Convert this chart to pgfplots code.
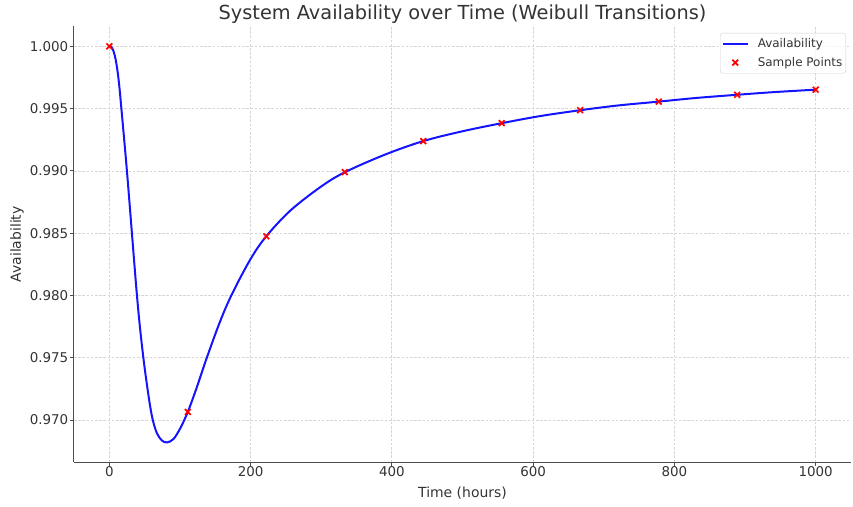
\documentclass[border=0pt]{standalone}
\usepackage{fontspec}
\setmainfont{DejaVu Sans}
\usepackage{pgfplots}
\pgfplotsset{compat=1.18}

\definecolor{txt}{HTML}{333333}
\definecolor{spine}{HTML}{4D4D4D}
\definecolor{gridc}{HTML}{D6D6D6}
\definecolor{legc}{HTML}{CFCFCF}
\definecolor{availblue}{RGB}{20,20,255}
\definecolor{ptred}{RGB}{255,0,0}

\pgfplotsset{
    lineleg/.style={legend image code/.code={\draw[##1] (0bp,0bp) -- (25bp,0bp);}},
    markleg/.style={legend image code/.code={\draw[##1, mark repeat=2, mark phase=2]
        plot coordinates {(0bp,0bp) (12.5bp,0bp) (25bp,0bp)};}},
}

% curve
\pgfplotstableread{
t      A
0      1.00000
3      0.99994
6      0.99960
9      0.99893
12     0.99785
14.5   0.99660
17     0.99505
21     0.99255
25     0.98995
28.5   0.98750
32     0.98500
35.5   0.98250
39.2   0.97995
43.5   0.97737
48.6   0.97482
53.3   0.97282
58     0.97104
62     0.96990
67.5   0.96893
74.6   0.96835
82     0.96821
91     0.96849
100.5  0.96935
111.1  0.97065
124    0.97265
137.5  0.97492
157    0.97794
174    0.98015
200    0.98293
222.2  0.98475
256    0.98680
299    0.98871
333.3  0.98989
390    0.99130
444.4  0.99239
500    0.99318
555.6  0.99383
610    0.99440
666.7  0.99487
720    0.99525
777.8  0.99556
830    0.99585
888.9  0.99611
940    0.99632
1000   0.99652
}\curvedata

\pgfplotstableread{
t       A
0       1.00000
111.11  0.97065
222.22  0.98475
333.33  0.98990
444.44  0.99239
555.56  0.99383
666.67  0.99487
777.78  0.99556
888.89  0.99611
1000    0.99652
}\sampledata

\begin{document}
\begin{tikzpicture}
\begin{axis}[
    name=ax,
    scale only axis,
    width=777bp, height=435.8bp,
    xmin=-50, xmax=1050,
    ymin=0.96661, ymax=1.00159,
    xtick={0,200,400,600,800,1000},
    ytick={0.970,0.975,0.980,0.985,0.990,0.995,1.000},
    scaled y ticks=false,
    xticklabel style={/pgf/number format/set thousands separator={}},
    yticklabel style={/pgf/number format/fixed, /pgf/number format/fixed zerofill,
        /pgf/number format/precision=3},
    /pgf/number format/assume math mode=true,
    ticklabel style={font=\fontsize{13.5}{16}\selectfont, text=txt},
    xticklabel style={anchor=base, yshift=-11bp},
    yticklabel style={anchor=east, inner sep=0pt, xshift=-2bp},
    axis x line*=bottom, axis y line*=left,
    axis line style={-, draw=spine, line width=1bp},
    tick align=outside,
    major tick length=3.5bp,
    tick style={draw=spine, line width=0.8bp},
    grid=major,
    major grid style={draw=gridc, line width=0.75bp, dash pattern=on 2.6bp off 1.6bp},
    xlabel={Time (hours)},
    ylabel={Availability},
    label style={font=\fontsize{14}{17}\selectfont, text=txt},
    xlabel style={at={([yshift=-35.4bp]axis description cs:0.5,0)}, anchor=base},
    ylabel style={at={([xshift=-53bp]axis description cs:0,0.5)}, anchor=base},
    legend style={at={(1,1)}, anchor=north east, xshift=-5bp, yshift=-6.5bp,
        font=\fontsize{12}{13}\selectfont, text=txt, draw=legc,
        rounded corners=2.5bp, inner xsep=1.5bp, inner ysep=3.3bp,
        row sep=4.3bp, column sep=7bp,
        fill=white, fill opacity=0.8, text opacity=1},
    legend cell align=left,
]
\addplot[color=availblue, line width=2bp, smooth, tension=0.55, lineleg]
    table[x=t, y=A] {\curvedata};
\addlegendentry{Availability}

\addplot[only marks, mark=x, mark size=4.1bp, color=ptred,
    mark options={line width=1.7bp}, markleg]
    table[x=t, y=A] {\sampledata};
\addlegendentry{Sample Points}
\end{axis}

\node[anchor=base, text=txt, font=\fontsize{19.4}{23}\selectfont]
    at ([yshift=6.5bp]ax.north) {System Availability over Time (Weibull Transitions)};

\pgfresetboundingbox
\path[use as bounding box] ([xshift=-74bp,yshift=-44.7bp]ax.south west)
    rectangle ([xshift=2bp,yshift=26.5bp]ax.north east);
\end{tikzpicture}
\end{document}
